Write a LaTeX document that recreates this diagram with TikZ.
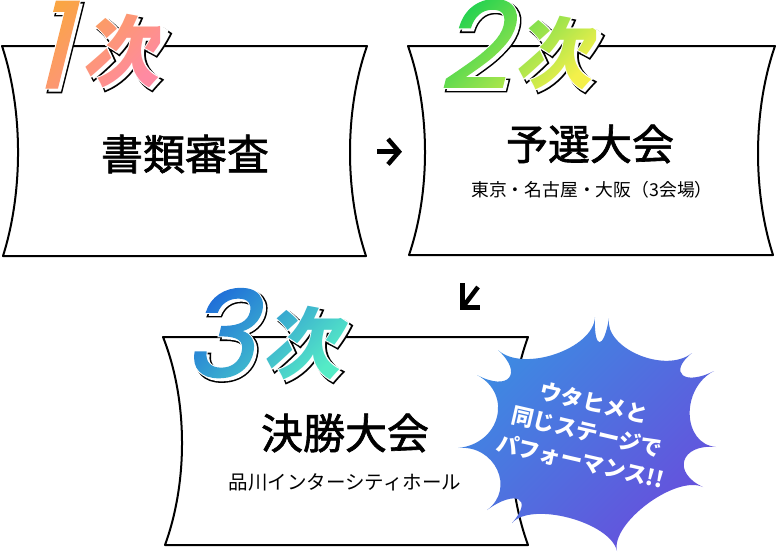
\documentclass[tikz,border=0pt]{standalone}
\usepackage{fontspec}
\setmainfont{Noto Sans CJK JP}
\newfontfamily\titlef{Noto Sans CJK JP}[FakeBold=1.5]
\newfontfamily\numf{Poppins}[FakeSlant=0.25,FakeBold=1.2]
\newfontfamily\numfB{Poppins}[FakeSlant=0.25,FakeBold=3.8]
\newfontfamily\numfW{Poppins}[FakeSlant=0.25,FakeBold=2.9]
\newfontfamily\kjf{Noto Sans CJK JP}[FakeSlant=0.2,BoldFeatures={FakeSlant=0.2}]
\newfontfamily\kjfB{Noto Sans CJK JP}[FakeSlant=0.2,BoldFeatures={FakeSlant=0.2,FakeBold=4}]
\newfontfamily\kjfW{Noto Sans CJK JP}[FakeSlant=0.2,BoldFeatures={FakeSlant=0.2,FakeBold=2.6}]
\usetikzlibrary{calc,fadings}
\definecolor{oA}{RGB}{250,165,68}
\definecolor{oB}{RGB}{255,138,162}
\definecolor{gA}{RGB}{31,209,80}
\definecolor{gB}{RGB}{244,240,74}
\definecolor{bA}{RGB}{30,108,217}
\definecolor{bB}{RGB}{85,235,198}
\definecolor{sA}{RGB}{60,140,226}
\definecolor{sB}{RGB}{102,80,220}
\newcommand\dsize{\fontsize{120}{120}\selectfont}
\newcommand\ksize{\fontsize{78}{78}\selectfont}
\tikzset{
  box/.style={draw=black,line width=2pt,fill=white,line join=round},
  arr/.style={draw=black,line width=4.5pt,line join=miter},
  title/.style={inner sep=0pt,font=\titlef\fontsize{42}{42}\selectfont},
  sub/.style={inner sep=0pt},
  digitstyle/.style={inner sep=0pt,anchor=base west,font=\numf\dsize},
  kanjistyle/.style={inner sep=0pt,anchor=base west,font=\kjf\bfseries\ksize},
  bursttext/.style={inner sep=0pt,align=center,text=white,font=\bfseries\fontsize{22}{30}\selectfont},
}
\newcommand\declstamp[6]{%
\begin{tikzfadingfrompicture}[name=#1,x=1pt,y=-1pt]
  \useasboundingbox (-130,-130) rectangle (130,130);
  \node[digitstyle,text=transparent!0] at (#3,#4) {#2};
  \node[kanjistyle,text=transparent!0] at (#5,#6) {次};
\end{tikzfadingfrompicture}}
\declstamp{fone}{1}{-67}{43}{-16}{35}
\declstamp{ftwo}{2}{-78}{43}{-2}{37}
\declstamp{fthree}{3}{-82}{42}{-3}{37}
\newcommand\stampback[5]{% digit, gx, gy, kx, ky
  \node[digitstyle,font=\numfB\dsize,text=black,xshift=3pt,yshift=-3pt] at (#2,#3) {#1};
  \node[kanjistyle,font=\kjfB\bfseries\ksize,text=black,xshift=3pt,yshift=-3pt] at (#4,#5) {次};
  \node[digitstyle,text=white,xshift=3pt,yshift=-3pt] at (#2,#3) {#1};
  \node[kanjistyle,text=white,xshift=3pt,yshift=-3pt] at (#4,#5) {次};
  \node[digitstyle,font=\numfW\dsize,text=white] at (#2,#3) {#1};
  \node[kanjistyle,font=\kjfW\bfseries\ksize,text=white] at (#4,#5) {次};}
\begin{document}
\begin{tikzpicture}[x=1pt,y=-1pt]
\useasboundingbox (0,0) rectangle (776,554);
\fill[white] (0,0) rectangle (776,554);
% boxes
\draw[box] (2,46) -- (367,46) .. controls (344.5,110) and (344.5,192) .. (366,256) -- (3,256) .. controls (23.2,192) and (23.2,110) .. cycle;
\draw[box] (408,46) -- (775,46) .. controls (752.7,110) and (752.7,192) .. (773,255) -- (409,255) .. controls (430.5,192) and (430.5,110) .. cycle;
\draw[box] (163,337) -- (528,337) .. controls (505,400) and (505,482) .. (528,545) -- (165,545) .. controls (188,482) and (188,400) .. cycle;
% texts
\node[title] (t1) at (185,154) {書類審査};
\node[title] (t2) at (590,144) {予選大会};
\node[sub,font=\fontsize{17.8}{17.8}\selectfont] (s2) at (592,190) {東京・名古屋・大阪（3会場）};
\node[title] (t3) at (345,433) {決勝大会};
\node[sub,font=\fontsize{19.5}{19.5}\selectfont] (s3) at (345,482) {品川インターシティホール};
% arrows
\coordinate (a1s) at (377,151.7);
\coordinate (a1e) at (399,151.7);
\coordinate (a1t) at (388,139);
\coordinate (a1b) at (388,164.4);
\draw[arr] (a1s) -- (a1e);
\draw[arr] (a1t) -- (a1e) -- (a1b);
\coordinate (a2s) at (478,287);
\coordinate (a2e) at (464,305.5);
\coordinate (a2t) at (462.5,283);
\coordinate (a2c) at (462.5,307.5);
\coordinate (a2r) at (480,307.5);
\draw[arr] (a2s) -- (a2e);
\draw[arr] (a2t) -- (a2c) -- (a2r);
% labels
\coordinate (P1) at (97,45);
\coordinate (P2) at (516,45);
\coordinate (P3) at (265,335);
\stampback{1}{30}{88}{81}{80}
\shade[top color=oA,bottom color=oB,shading angle=45,path fading=fone,fit fading=false,fading transform={shift={(P1)}}] (35,-2) rectangle (160,92);
\stampback{2}{438}{88}{514}{82}
\shade[top color=gA,bottom color=gB,shading angle=45,path fading=ftwo,fit fading=false,fading transform={shift={(P2)}}] (436,-2) rectangle (596,92);
\stampback{3}{183}{377}{262}{372}
\shade[top color=bA,bottom color=bB,shading angle=45,path fading=fthree,fit fading=false,fading transform={shift={(P3)}}] (182,286) rectangle (348,382);
% starburst
\coordinate (C) at (590,435);
\coordinate (T1) at (595,317);
\coordinate (T2) at (609,318);
\coordinate (T3) at (692,353);
\coordinate (T4) at (714,371);
\coordinate (T5) at (716,447);
\coordinate (T6) at (703,487);
\coordinate (T7) at (617,551);
\coordinate (T8) at (512,523);
\coordinate (T9) at (487,510);
\coordinate (T10) at (458,448);
\coordinate (T11) at (477,375);
\coordinate (T12) at (498,350);
\shade[top color=sA,bottom color=sB,shading angle=45]
  (T1) .. controls ($(T1)!0.28!(C)$) and ($(T2)!0.28!(C)$) .. (T2)
       .. controls ($(T2)!0.26!(C)$) and ($(T3)!0.26!(C)$) .. (T3)
       .. controls ($(T3)!0.24!(C)$) and ($(T4)!0.24!(C)$) .. (T4)
       .. controls ($(T4)!0.27!(C)$) and ($(T5)!0.27!(C)$) .. (T5)
       .. controls ($(T5)!0.28!(C)$) and ($(T6)!0.28!(C)$) .. (T6)
       .. controls ($(T6)!0.24!(C)$) and ($(T7)!0.24!(C)$) .. (T7)
       .. controls ($(T7)!0.25!(C)$) and ($(T8)!0.25!(C)$) .. (T8)
       .. controls ($(T8)!0.28!(C)$) and ($(T9)!0.28!(C)$) .. (T9)
       .. controls ($(T9)!0.28!(C)$) and ($(T10)!0.28!(C)$) .. (T10)
       .. controls ($(T10)!0.32!(C)$) and ($(T11)!0.32!(C)$) .. (T11)
       .. controls ($(T11)!0.28!(C)$) and ($(T12)!0.28!(C)$) .. (T12)
       .. controls ($(T12)!0.27!(C)$) and ($(T1)!0.27!(C)$) .. (T1) -- cycle;
\node[bursttext,rotate=-13] (bt) at (587,432) {ウタヒメと\\同じステージで\\パフォーマンス!!};
\end{tikzpicture}
\end{document}
